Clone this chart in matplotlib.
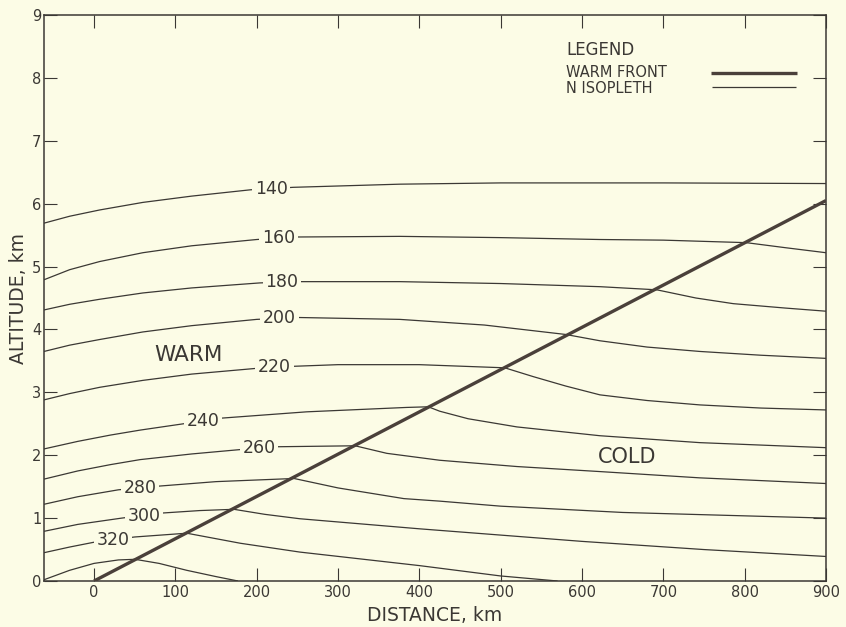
import numpy as np
import matplotlib.pyplot as plt

# warm front (km, km)
front_x = [0, 900]
front_y = [0.0, 6.05]

# N isopleths (distance km, altitude km)
x140 = [-61.5, -30, 7, 60, 120, 192, 245, 376, 500, 700, 900]
y140 = [5.69, 5.80, 5.90, 6.02, 6.12, 6.22, 6.26, 6.31, 6.33, 6.33, 6.32]
x160 = [-61.5, -30, 7, 60, 120, 200, 249, 376, 500, 622, 700, 802, 850, 900]
y160 = [4.79, 4.95, 5.08, 5.22, 5.33, 5.43, 5.47, 5.48, 5.46, 5.43, 5.42, 5.38, 5.30, 5.22]
x180 = [-61.5, -30, 7, 60, 120, 204, 253, 376, 500, 622, 692, 740, 786, 850, 900]
y180 = [4.31, 4.40, 4.48, 4.58, 4.66, 4.74, 4.76, 4.76, 4.73, 4.68, 4.63, 4.50, 4.41, 4.34, 4.29]
x200 = [-61.5, -30, 7, 60, 120, 200, 251, 376, 480, 580, 622, 680, 745, 820, 900]
y200 = [3.65, 3.75, 3.84, 3.96, 4.06, 4.16, 4.19, 4.16, 4.07, 3.92, 3.82, 3.72, 3.65, 3.59, 3.54]
x220 = [-61.5, -30, 7, 60, 120, 216, 300, 400, 505, 540, 580, 622, 680, 745, 820, 900]
y220 = [2.88, 2.98, 3.08, 3.19, 3.29, 3.40, 3.44, 3.44, 3.39, 3.25, 3.10, 2.96, 2.87, 2.80, 2.75, 2.72]
x240 = [-61.5, -20, 20, 57, 110, 157, 261.5, 384.5, 411, 425, 460, 520, 622, 745, 900]
y240 = [2.10, 2.22, 2.32, 2.40, 2.50, 2.59, 2.69, 2.76, 2.77, 2.70, 2.58, 2.45, 2.31, 2.20, 2.12]
x260 = [-61.5, -20, 20, 56.6, 120, 180, 226.6, 321, 360, 425, 520, 622, 745, 900]
y260 = [1.62, 1.75, 1.85, 1.93, 2.02, 2.09, 2.135, 2.15, 2.03, 1.92, 1.82, 1.74, 1.64, 1.55]
x280 = [-61.5, -20, 30, 81, 150, 246, 300, 381, 425, 500, 650, 900]
y280 = [1.22, 1.34, 1.45, 1.51, 1.58, 1.63, 1.48, 1.31, 1.27, 1.19, 1.09, 1.0]
x300 = [-61.5, -20, 34, 83, 130, 172, 210, 253, 400, 600, 750, 900]
y300 = [0.79, 0.90, 1.0, 1.08, 1.12, 1.14, 1.06, 0.99, 0.83, 0.63, 0.50, 0.39]
x320 = [-61.5, -30, 3.3, 50, 114, 180, 253, 400, 500, 570]
y320 = [0.45, 0.54, 0.625, 0.70, 0.76, 0.60, 0.46, 0.245, 0.08, 0.0]
x340 = [-61.5, -30, 0, 30, 50.4, 80, 114, 150, 177]
y340 = [0.02, 0.17, 0.28, 0.335, 0.345, 0.28, 0.17, 0.07, 0.0]

iso_xs = [x140, x160, x180, x200, x220, x240, x260, x280, x300, x320, x340]
iso_ys = [y140, y160, y180, y200, y220, y240, y260, y280, y300, y320, y340]

# inline label positions (lowest isopleth has no label)
lab_text = ['140', '160', '180', '200', '220', '240', '260', '280', '300', '320']
lab_x = [218, 227, 231, 228, 222, 134.5, 203, 56.6, 61.5, 23.8]
lab_y = [6.24, 5.45, 4.76, 4.18, 3.41, 2.54, 2.11, 1.48, 1.03, 0.65]

legend_labels = ['WARM FRONT', 'N ISOPLETH']

bg = '#fcfce6'
ink = '#3b3834'
front_col = '#4a403a'

fig = plt.figure(figsize=(8.46, 6.27), dpi=100, facecolor=bg)
ax = fig.add_axes([44/846, 46/627, 782/846, 566/627], facecolor=bg)

for xs, ys in zip(iso_xs, iso_ys):
    ax.plot(xs, ys, color=ink, lw=0.9, solid_capstyle='butt')

ax.plot(front_x, front_y, color=front_col, lw=2.4, solid_capstyle='butt', zorder=3)

for t, lx, ly in zip(lab_text, lab_x, lab_y):
    ax.text(lx, ly, t, fontsize=12.5, color=ink, ha='center', va='center',
            bbox=dict(boxstyle='square,pad=0.15', fc=bg, ec='none'), zorder=4)

ax.text(116, 3.6, 'WARM', fontsize=15.5, color=ink, ha='center', va='center')
ax.text(655, 1.97, 'COLD', fontsize=15, color=ink, ha='center', va='center')

ax.set_xlim(-61.5, 900)
ax.set_ylim(0, 9)
ax.set_xticks(range(0, 901, 100))
ax.set_yticks(range(0, 10))
ax.tick_params(axis='both', direction='in', length=9.5, width=0.8, color=ink,
               labelsize=10.5, labelcolor=ink, top=True, right=True)
ax.tick_params(axis='x', pad=3)
ax.tick_params(axis='y', pad=2)
for s in ax.spines.values():
    s.set_linewidth(1.1)
    s.set_color(ink)

ax.set_xlabel('DISTANCE, km', fontsize=13.5, color=ink, labelpad=4)
ax.set_ylabel('ALTITUDE, km', fontsize=13.5, color=ink, labelpad=3)

# hand-drawn style legend block, upper right
tr = ax.transAxes
ax.text(0.6675, 0.938, 'LEGEND', transform=tr, fontsize=12, color=ink, va='center')
ax.text(0.6675, 0.899, legend_labels[0], transform=tr, fontsize=10.5, color=ink, va='center')
ax.text(0.6675, 0.871, legend_labels[1], transform=tr, fontsize=10.5, color=ink, va='center')
ax.plot([0.853, 0.963], [0.8975, 0.8975], transform=tr, color=front_col, lw=2.4,
        solid_capstyle='butt')
ax.plot([0.854, 0.962], [0.872, 0.872], transform=tr, color=ink, lw=0.9,
        solid_capstyle='butt')

fig.savefig('out.png', dpi=100, facecolor=bg)
